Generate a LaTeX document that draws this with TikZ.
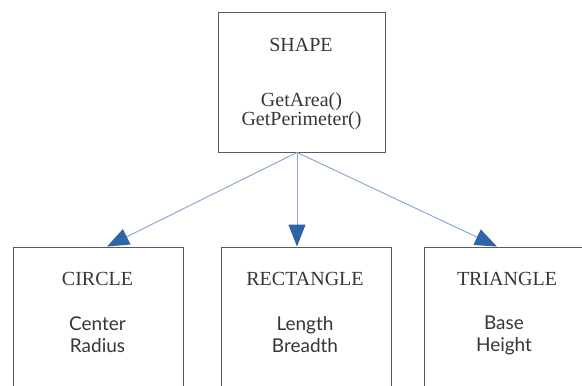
\documentclass[tikz,border=0pt]{standalone}
\usepackage{fontspec}
\setmainfont{Liberation Serif}
\newfontfamily\bodyfont{Lato}
\usetikzlibrary{arrows.meta,calc}
\definecolor{arrowblue}{HTML}{2F64A8}
\definecolor{lineblue}{HTML}{8DAAD2}
\definecolor{boxgray}{HTML}{5A5A5A}
\definecolor{textgray}{HTML}{363636}

\begin{document}
\begin{tikzpicture}[x=1pt,y=1pt,
 box/.style={draw=boxgray,line width=0.9pt,minimum width=170pt,minimum height=150pt,inner sep=0pt},
 title/.style={font=\fontsize{20}{22}\selectfont,text=textgray},
 members/.style={font=\fontsize{20}{19}\selectfont,align=center,text=textgray},
 fields/.style={font=\bodyfont\fontsize{19}{22}\selectfont,align=center,text=textgray},
 link/.style={draw=lineblue,line width=1pt,-{Triangle[length=22pt,width=17pt,color=arrowblue]}}]
\clip (0,0) rectangle (582,386);
% base class
\node (shape) at (301.5,304)[box,minimum width=167pt,minimum height=140pt] {};
\node (shapet) at (301,341)[title] {SHAPE};
\node (shapem) at (301.5,275)[members] {GetArea()\\GetPerimeter()};
% derived classes
\node (circ) at (98,64)[box] {};
\node (circt) at (97.5,107)[title] {CIRCLE};
\node (circf) at (97.5,51)[fields] {Center\\Radius};
\node (rect) at (306,64)[box] {};
\node (rectt) at (305,107)[title] {RECTANGLE};
\node (rectf) at (305,51)[fields] {Length\\Breadth};
\node (tri) at (509,64)[box] {};
\node (trit) at (507,107)[title] {TRIANGLE};
\node (trif) at (504,51)[fields] {Base\\Height};
\coordinate (src) at ($(shape.south)+(-4.5,0)$);
\draw[link] (src) -- ($(circ.north)+(9,0)$);
\draw[link] (src) -- ($(rect.north)+(-9,0)$);
\draw[link] (src) -- ($(tri.north)+(-12,0)$);
\end{tikzpicture}
\end{document}
